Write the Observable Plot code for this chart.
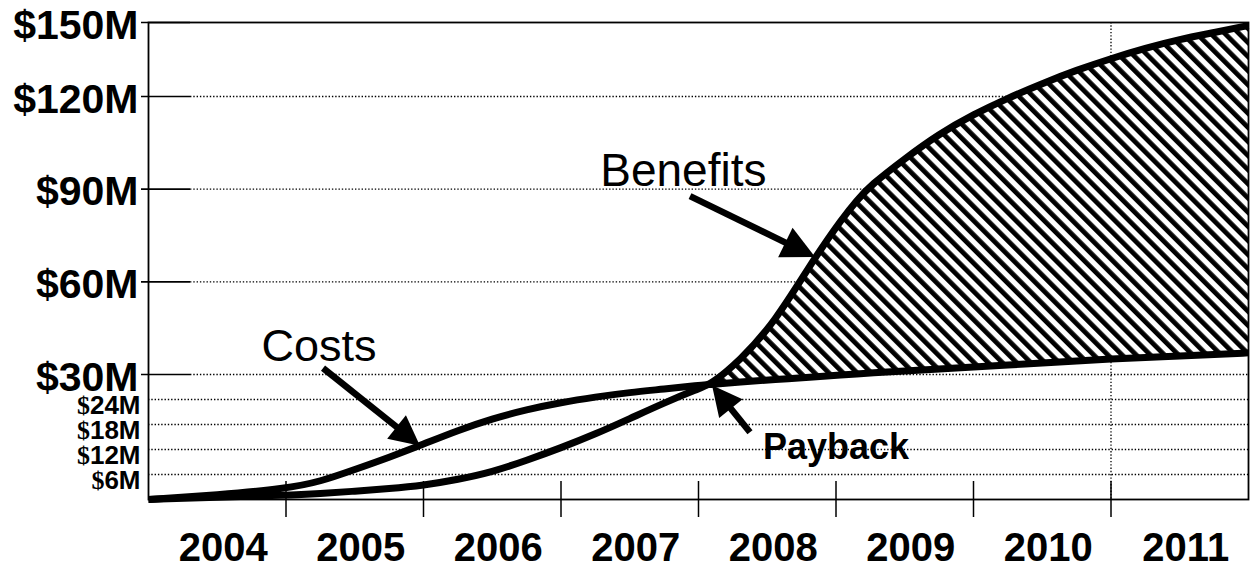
<!DOCTYPE html>
<html><head><meta charset="utf-8">
<script src="https://cdn.jsdelivr.net/npm/d3@7"></script>
<script src="https://cdn.jsdelivr.net/npm/@observablehq/plot@0.6"></script>
<style>html,body{margin:0;padding:0;background:#fff;} svg{display:block;}</style>
</head><body><div id="chart"></div>
<script>
// ---- data ----
const years    = [2004, 2004.5, 2005, 2005.25, 2005.5, 2005.75, 2006, 2006.25, 2006.5, 2006.75, 2007, 2007.25, 2007.5, 2007.75, 2008, 2008.09, 2008.3, 2008.55, 2008.85, 2009.05, 2009.15, 2009.25, 2009.5, 2009.75, 2010, 2010.25, 2010.5, 2010.75, 2011, 2011.25, 2011.5, 2011.75, 2012];
const costs    = [0, 1.1, 2.6, 4.3, 7.2, 10.1, 13.3, 16.6, 19.4, 21.6, 23.3, 24.6, 25.7, 26.5, 27.4, 27.6, 28.2, 28.8, 29.4, 29.9, 30.2, 30.5, 31.1, 31.8, 32.4, 33.1, 33.7, 34.4, 35.0, 35.5, 36.0, 36.5, 37.0];
const benefits = [0, 0.6, 1.0, 1.4, 2.0, 2.6, 3.4, 4.8, 6.6, 9.4, 12.4, 15.7, 19.4, 23.2, 26.6, 27.6, 34.5, 46.5, 68.2, 80.8, 86.3, 91.2, 99.9, 107.9, 114.2, 119.5, 125.3, 130.7, 135.4, 139.6, 143.2, 145.9, 148.8];

const yearLabels = [2004, 2005, 2006, 2007, 2008, 2009, 2010, 2011];
const yearTicks  = [2005, 2006, 2007, 2008, 2009, 2010, 2011];
const gridYears  = [2011];
const majorTicks = [150, 120, 90, 60, 30];
const minorTicks = [24, 18, 12, 6];

const noteLabels = ["Costs", "Benefits", "Payback"];
const noteX      = [2005.24, 2007.89, 2009.0];
const noteY      = [38.9, 95.9, 12.6];

const arrowX1 = [2005.273, 2007.942, 2008.378];
const arrowY1 = [31.9, 87.6, 16.0];
const arrowX2 = [2005.978, 2008.851, 2008.102];
const arrowY2 = [12.8, 67.9, 27.3];

const rows = years.map((year, i) => ({year, cost: costs[i], benefit: benefits[i]}));
const hatchRows = rows.filter(d => d.year >= 2008.09);

const FONT = "Liberation Sans, Arial, Helvetica, sans-serif";
const dotted = {stroke: "#000", strokeWidth: 1.3, strokeDasharray: "1.4 1.9"};

const arrowMark = (index, scales) => {
  const g = d3.create("svg:g");
  arrowX1.forEach((_, i) => {
    const x1 = scales.x(arrowX1[i]), y1 = scales.y(arrowY1[i]);
    const x2 = scales.x(arrowX2[i]), y2 = scales.y(arrowY2[i]);
    const dx = x2 - x1, dy = y2 - y1, len = Math.hypot(dx, dy);
    const ux = dx / len, uy = dy / len;
    const hl = i === 1 ? 33 : 30, hw = i === 1 ? 16.5 : 15;
    const bx = x2 - ux * hl, by = y2 - uy * hl;
    g.append("line")
      .attr("x1", x1).attr("y1", y1)
      .attr("x2", bx + ux * 3).attr("y2", by + uy * 3)
      .attr("stroke", "#000").attr("stroke-width", 6.5);
    g.append("path")
      .attr("d", `M${x2},${y2}L${bx - uy * hw},${by + ux * hw}L${bx + uy * hw},${by - ux * hw}Z`)
      .attr("fill", "#000");
  });
  return g.node();
};

const plot = Plot.plot({
  width: 1251, height: 568,
  marginLeft: 148, marginRight: 3, marginTop: 22, marginBottom: 69,
  style: {background: "#fff", fontFamily: FONT},
  x: {type: "linear", domain: [2004, 2012], range: [148, 1248], axis: null},
  y: {type: "linear", domain: [0, 30, 120, 150], range: [499, 374, 96, 22], axis: null},
  marks: [
    Plot.ruleY(minorTicks, dotted),
    Plot.ruleY(majorTicks.filter(v => v < 150), {...dotted, insetLeft: 42}),
    Plot.ruleX(gridYears, dotted),
    Plot.areaY(hatchRows, {x: "year", y1: "cost", y2: "benefit", fill: "url(#hatch)", curve: "basis"}),
    Plot.frame({stroke: "#000", strokeWidth: 1.8}),
    Plot.ruleY(majorTicks, {stroke: "#000", strokeWidth: 1.6, insetLeft: -7, insetRight: 1058}),
    Plot.ruleX(yearTicks, {stroke: "#000", strokeWidth: 1.5, insetTop: 459, insetBottom: -18}),
    Plot.line(rows, {x: "year", y: "cost", stroke: "#000", strokeWidth: 7, curve: "basis", strokeLinecap: "butt"}),
    Plot.line(rows, {x: "year", y: "benefit", stroke: "#000", strokeWidth: 7, curve: "basis", strokeLinecap: "butt"}),
    arrowMark,
    Plot.text(majorTicks, {y: d => d, frameAnchor: "left", text: d => `$${d}M`, textAnchor: "end", dx: -10, dy: 3, fontSize: 41, fontWeight: "bold", fontFamily: FONT, fill: "#000"}),
    Plot.text(minorTicks, {y: d => d, frameAnchor: "left", text: d => `$${d}M`, textAnchor: "end", dx: -8, dy: 6, fontSize: 26, fontWeight: "bold", fontFamily: FONT, fill: "#000"}),
    Plot.text(yearLabels, {x: d => d + 0.5, frameAnchor: "bottom", text: d => String(d), dx: 6, dy: 61, fontSize: 40, fontWeight: "bold", fontFamily: FONT, fill: "#000"}),
    Plot.text([0, 1], {x: i => noteX[i], y: i => noteY[i], text: i => noteLabels[i], fontSize: i => i === 0 ? 45 : 46, fontFamily: FONT, fill: "#000"}),
    Plot.text([2], {x: i => noteX[i], y: i => noteY[i], text: i => noteLabels[i], fontSize: 36, fontWeight: "bold", fontFamily: FONT, fill: "#000"})
  ]
});

// hatch pattern
const svg = d3.select(plot);
const defs = svg.insert("defs", ":first-child");
const pat = defs.append("pattern")
  .attr("id", "hatch").attr("patternUnits", "userSpaceOnUse")
  .attr("width", 10).attr("height", 10)
  .attr("patternTransform", "rotate(-45)");
pat.append("rect").attr("width", 10).attr("height", 10).attr("fill", "#fff");
pat.append("rect").attr("x", 0).attr("width", 4.8).attr("height", 10).attr("fill", "#000");

// serif "$" on the small tick labels
const minorSet = new Set(minorTicks.map(d => `$${d}M`));
svg.selectAll("text").each(function() {
  const t = this.textContent;
  if (minorSet.has(t)) {
    this.textContent = "";
    d3.select(this).append("tspan").attr("font-family", "Liberation Serif, Times New Roman, serif").text("$");
    d3.select(this).append("tspan").text(t.slice(1));
  }
});

document.getElementById("chart").appendChild(plot);
</script>
</body></html>
